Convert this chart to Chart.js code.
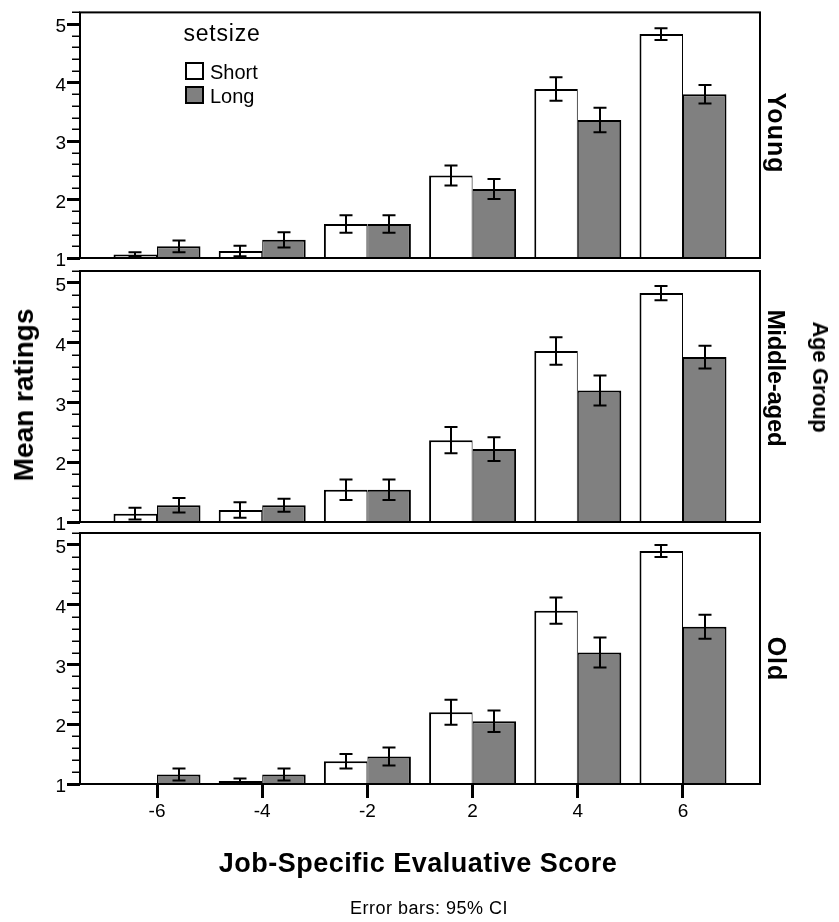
<!DOCTYPE html>
<html>
<head>
<meta charset="utf-8">
<script src="https://cdn.jsdelivr.net/npm/chart.js@4.4.1/dist/chart.umd.min.js"></script>
<style>
html,body{margin:0;padding:0;background:#fff;}
#wrap{position:relative;width:839px;height:922px;overflow:hidden;font-family:"Liberation Sans",Arial,sans-serif;color:#000;}
#wrap canvas{position:absolute;left:0;top:0;}
.t{position:absolute;white-space:nowrap;line-height:1;}
.box{position:absolute;box-sizing:border-box;border:2px solid #000;}
</style>
</head>
<body>
<div id="wrap">
  <canvas id="c0" width="839" height="922"></canvas>
  <canvas id="c1" width="839" height="922"></canvas>
  <canvas id="c2" width="839" height="922"></canvas>
</div>
<script>
// ---------------- data ----------------
const categories = ['-6', '-4', '-2', '2', '4', '6'];
const seriesNames = ['Short', 'Long'];
const panelNames = ['Young', 'Middle-aged', 'Old'];
const yTickValues = [1, 2, 3, 4, 5];

const youngShort   = [1.06, 1.12, 1.58, 2.41, 3.89, 4.83];
const youngLong    = [1.20, 1.31, 1.58, 2.18, 3.36, 3.80];
const youngShortCI = [0.04, 0.09, 0.15, 0.17, 0.20, 0.10];
const youngLongCI  = [0.10, 0.13, 0.15, 0.17, 0.21, 0.16];

const middleShort   = [1.14, 1.20, 1.54, 2.37, 3.86, 4.83];
const middleLong    = [1.28, 1.28, 1.54, 2.22, 3.20, 3.76];
const middleShortCI = [0.10, 0.13, 0.17, 0.22, 0.23, 0.12];
const middleLongCI  = [0.12, 0.11, 0.17, 0.20, 0.25, 0.19];

const oldShort   = [null, 1.05, 1.38, 2.20, 3.90, 4.90];
const oldLong    = [1.16, 1.16, 1.46, 2.05, 3.20, 3.63];
const oldShortCI = [null, 0.04, 0.12, 0.21, 0.22, 0.10];
const oldLongCI  = [0.10, 0.10, 0.15, 0.18, 0.25, 0.20];

// ---------------- styling ----------------
const FONT = "'Liberation Sans', Arial, sans-serif";
const seriesFill = ['#ffffff', '#808080'];
const Y_MIN = 1, Y_MAX = 5.2, MINOR_STEP = 0.2;

Chart.defaults.font.family = FONT;
Chart.defaults.color = '#000';

const errorBarPlugin = {
  id: 'errorBars',
  afterDatasetsDraw(chart) {
    const ctx = chart.ctx, ys = chart.scales.y;
    ctx.save();
    ctx.strokeStyle = '#000';
    ctx.lineWidth = 2;
    chart.data.datasets.forEach((ds, di) => {
      const meta = chart.getDatasetMeta(di);
      ds.errorMargins.forEach((m, i) => {
        const v = ds.data[i].y;
        if (v == null || m == null) return;
        const x = Math.round(meta.data[i].x);
        const yt = ys.getPixelForValue(v + m);
        const yb = ys.getPixelForValue(Math.max(v - m, ys.min));
        ctx.beginPath();
        ctx.moveTo(x, yt); ctx.lineTo(x, yb);
        ctx.moveTo(x - 6.5, yt); ctx.lineTo(x + 6.5, yt);
        if (v - m > ys.min) { ctx.moveTo(x - 6.5, yb); ctx.lineTo(x + 6.5, yb); }
        ctx.stroke();
      });
    });
    ctx.restore();
  }
};

const framePlugin = {
  id: 'frame',
  afterDraw(chart) {
    const ctx = chart.ctx, a = chart.chartArea, ys = chart.scales.y;
    ctx.save();
    ctx.strokeStyle = '#000';
    // minor ticks
    ctx.lineWidth = 1.5;
    for (let k = 1; k * MINOR_STEP <= (Y_MAX - Y_MIN) + 1e-9; k++) {
      const v = Y_MIN + k * MINOR_STEP;
      if (Math.abs(v - Math.round(v)) < 1e-6) continue;
      const y = Math.round(ys.getPixelForValue(v)) + 0.25;
      ctx.beginPath(); ctx.moveTo(a.left, y); ctx.lineTo(a.left - 8, y); ctx.stroke();
    }
    // frame
    ctx.lineWidth = 2;
    ctx.strokeRect(a.left, a.top, a.right - a.left, a.bottom - a.top);
    ctx.restore();
  }
};

function makePanel(id, shortVals, longVals, shortCI, longCI, padTop, padBottom, showX) {
  const vals = [shortVals, longVals];
  const cis = [shortCI, longCI];
  const datasets = seriesNames.map((name, s) => ({
    label: name,
    data: categories.map((c, i) => ({ x: i, y: vals[s][i] })),
    errorMargins: cis[s],
    backgroundColor: seriesFill[s],
    borderColor: '#000',
    borderWidth: s === 0 ? { top: 2, left: 2, right: 1, bottom: 0 } : { top: 2, left: 1, right: 2, bottom: 0 },
    borderSkipped: 'start',
    categoryPercentage: 0.827,
    barPercentage: 1.0
  }));
  return new Chart(document.getElementById(id), {
    type: 'bar',
    data: { datasets },
    options: {
      responsive: false,
      animation: false,
      events: [],
      layout: { padding: { top: padTop, right: 79, bottom: padBottom, left: 0 } },
      plugins: { legend: { display: false }, tooltip: { enabled: false } },
      scales: {
        x: {
          type: 'linear',
          display: showX,
          min: -0.732,
          max: 5.732,
          offset: false,
          afterBuildTicks: ax => { ax.ticks = categories.map((c, i) => ({ value: i })); },
          ticks: {
            callback: v => categories[v],
            font: { size: 19 },
            color: '#000',
            padding: 2,
            autoSkip: false,
            maxRotation: 0
          },
          grid: { offset: false, drawOnChartArea: false, drawTicks: true, tickLength: 14, tickWidth: 3, tickColor: '#000' },
          border: { display: false },
          afterFit: s => { s.height = showX ? 40 : 0; }
        },
        y: {
          type: 'linear',
          min: Y_MIN,
          max: Y_MAX,
          afterBuildTicks: ax => { ax.ticks = yTickValues.map(v => ({ value: v })); },
          ticks: { font: { size: 19 }, color: '#000', padding: 1, labelOffset: 3 },
          grid: { drawOnChartArea: false, drawTicks: true, tickLength: 13, tickWidth: 3, tickColor: '#000' },
          border: { display: false },
          afterFit: s => { s.width = 80; }
        }
      }
    },
    plugins: [errorBarPlugin, framePlugin]
  });
}

makePanel('c0', youngShort, youngLong, youngShortCI, youngLongCI, 8, 922 - 258, false);
makePanel('c1', middleShort, middleLong, middleShortCI, middleLongCI, 271, 922 - 522, false);
makePanel('c2', oldShort, oldLong, oldShortCI, oldLongCI, 533, 922 - 784 - 40, true);

// ---------------- text ----------------
const wrap = document.getElementById('wrap');
function addText(txt, x, y, opts) {
  const d = document.createElement('div');
  d.className = 't';
  d.textContent = txt;
  d.style.left = x + 'px';
  d.style.top = y + 'px';
  d.style.fontSize = opts.size + 'px';
  if (opts.bold) d.style.fontWeight = 'bold';
  if (opts.ls) d.style.letterSpacing = opts.ls + 'px';
  const ax = opts.anchor === 'left' ? '0' : '-50%';
  d.style.transform = 'translate(' + ax + ',-50%)' + (opts.rot ? ' rotate(' + opts.rot + 'deg)' : '');
  wrap.appendChild(d);
}

addText('Mean ratings', 24, 395, { size: 28, bold: true, rot: -90 });
addText('Age Group', 820, 377, { size: 22, bold: true, rot: 90, ls: -0.3 });
addText(panelNames[0], 776, 133, { size: 25, bold: true, rot: 90, ls: 1 });
addText(panelNames[1], 776, 378, { size: 24, bold: true, rot: 90, ls: -0.3 });
addText(panelNames[2], 776, 659, { size: 25, bold: true, rot: 90, ls: 1 });
addText('Job-Specific Evaluative Score', 418, 863, { size: 27, bold: true, ls: 0.5 });
addText('Error bars: 95% CI', 429, 908, { size: 18, ls: 0.5 });

// legend
addText('setsize', 222, 33, { size: 23, ls: 0.8 });
const legendTops = [62, 86];
seriesNames.forEach((name, s) => {
  const b = document.createElement('div');
  b.className = 'box';
  b.style.left = '185px';
  b.style.top = legendTops[s] + 'px';
  b.style.width = '19px';
  b.style.height = '18px';
  b.style.background = seriesFill[s];
  wrap.appendChild(b);
  addText(name, 210, legendTops[s] + 9.5, { size: 20, anchor: 'left' });
});
</script>
</body>
</html>
